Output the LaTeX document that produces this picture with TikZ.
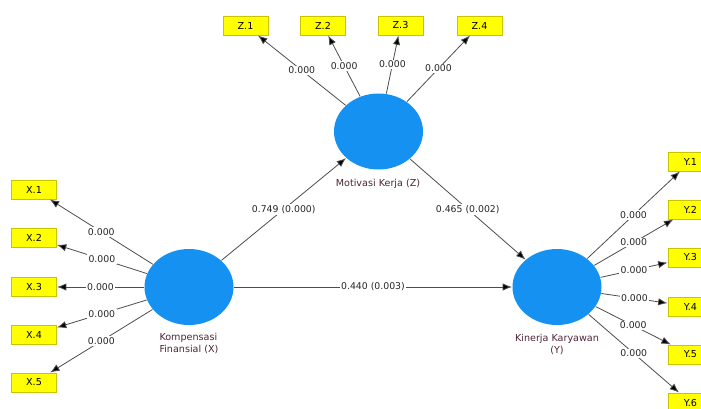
\documentclass[tikz,border=0pt]{standalone}
\usepackage{fontspec}
\setmainfont{DejaVu Sans}
\usetikzlibrary{shapes.geometric,arrows.meta}

\definecolor{lvblue}{HTML}{1591F2}
\definecolor{indyellow}{HTML}{FFFF00}
\definecolor{indborder}{HTML}{C9C300}
\definecolor{lvtext}{HTML}{4E2436}

\tikzset{every picture/.style={line width=0.75pt}}
\tikzset{
  latent/.style={ellipse, fill=lvblue, minimum width=66.75pt, minimum height=57pt, inner sep=0pt},
  indicator/.style={draw=indborder, fill=indyellow, minimum width=33.75pt, minimum height=14.25pt, inner sep=0pt, font=\fontsize{7.2}{8}\selectfont},
  load/.style={draw=black!70, line width=0.6pt, -{Latex[length=7pt,width=5.5pt,fill=black]}},
  val/.style={fill=white, inner sep=1pt, font=\fontsize{7}{8}\selectfont, text=black!85},
  lvlabel/.style={inner sep=0.75pt, font=\fontsize{7.2}{9}\selectfont, text=lvtext}
}

\begin{document}
\begin{tikzpicture}[x=0.75pt,y=0.75pt,yscale=-1,xscale=1]
    \path [use as bounding box, clip] (0,0) rectangle (701,408);

    % Latent Variables
    \node [latent] (Z) at (378.5,131.5) {};
    \node [latent] (X) at (189,287) {};
    \node [latent] (Y) at (557,287) {};

    % Text Node
    \node [lvlabel] (Ztext) at (378,184) {Motivasi Kerja (Z)};
    % Text Node
    \node [lvlabel, anchor=north west, align=left] (Xtext) at (158,332) {Kompensasi\\Finansial (X)};
    % Text Node
    \node [lvlabel, anchor=north, align=center] (Ytext) at (557,333) {Kinerja Karyawan\\(Y)};

    % Indicators Z
    \node [indicator] (Z1) at (245.5,25.5) {Z.1};
    \node [indicator] (Z2) at (323,25.5) {Z.2};
    \node [indicator] (Z3) at (400.5,25.5) {Z.3};
    \node [indicator] (Z4) at (479.5,25.5) {Z.4};

    % Indicators X
    \node [indicator] (X1) at (34,189.5) {X.1};
    \node [indicator] (X2) at (34,237.5) {X.2};
    \node [indicator] (X3) at (34,287) {X.3};
    \node [indicator] (X4) at (34,334.5) {X.4};
    \node [indicator] (X5) at (34,382.5) {X.5};

    % Indicators Y
    \node [indicator] (Y1) at (690.5,161.5) {Y.1};
    \node [indicator] (Y2) at (690.5,209.5) {Y.2};
    \node [indicator] (Y3) at (690.5,257.5) {Y.3};
    \node [indicator] (Y4) at (690.5,306.5) {Y.4};
    \node [indicator] (Y5) at (690.5,354.5) {Y.5};
    \node [indicator] (Y6) at (690.5,402.5) {Y.6};

    % Loadings Z
    \draw [load] (Z) -- (Z1) node [val, midway] {0.000};
    \draw [load] (Z) -- (Z2) node [val, midway] {0.000};
    \draw [load] (Z) -- (Z3) node [val, midway] {0.000};
    \draw [load] (Z) -- (Z4) node [val, midway] {0.000};

    % Loadings X
    \draw [load] (X) -- (X1) node [val, midway] {0.000};
    \draw [load] (X) -- (X2) node [val, midway] {0.000};
    \draw [load] (X) -- (X3) node [val, midway] {0.000};
    \draw [load] (X) -- (X4) node [val, midway] {0.000};
    \draw [load] (X) -- (X5) node [val, midway] {0.000};

    % Loadings Y
    \draw [load] (Y) -- (Y1) node [val, midway] {0.000};
    \draw [load] (Y) -- (Y2) node [val, midway] {0.000};
    \draw [load] (Y) -- (Y3) node [val, midway] {0.000};
    \draw [load] (Y) -- (Y4) node [val, midway] {0.000};
    \draw [load] (Y) -- (Y5) node [val, midway] {0.000};
    \draw [load] (Y) -- (Y6) node [val, midway] {0.000};

    % Path Coefficients
    \draw [load] (X) -- (Z) node [val, midway] {0.749 (0.000)};
    \draw [load] (Z) -- (Y) node [val, midway] {0.465 (0.002)};
    \draw [load] (X) -- (Y) node [val, midway] {0.440 (0.003)};

\end{tikzpicture}
\end{document}
